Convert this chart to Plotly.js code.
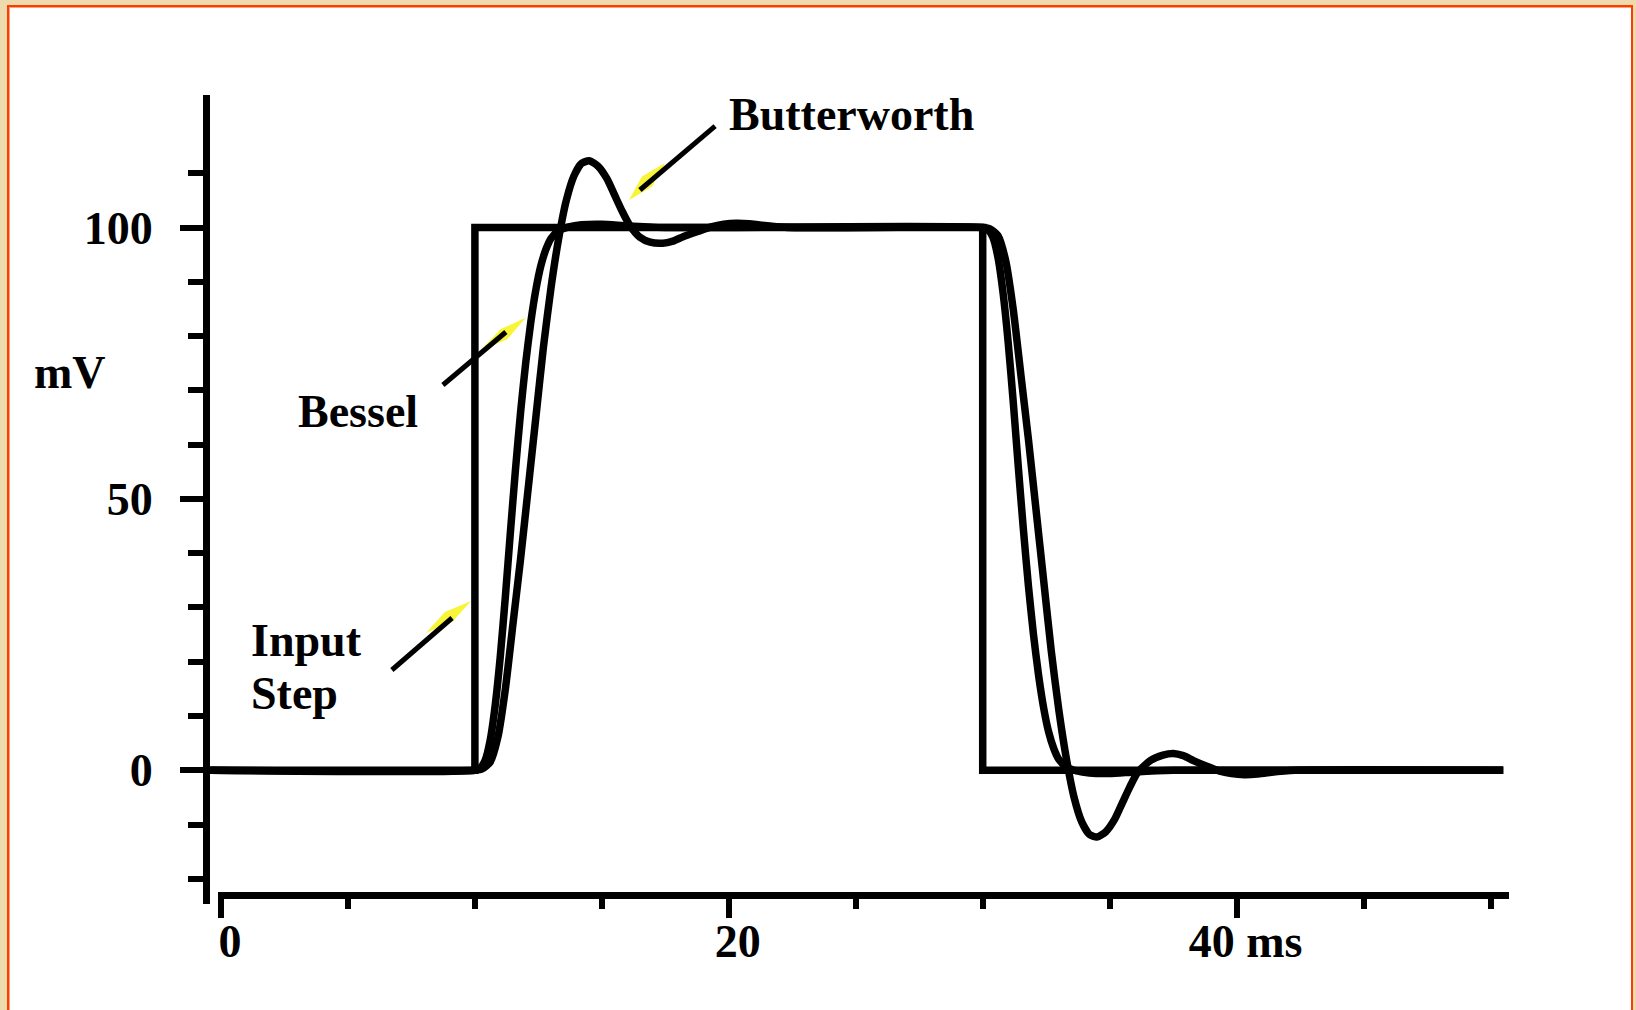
<!DOCTYPE html>
<html>
<head>
<meta charset="utf-8">
<script src="https://cdn.plot.ly/plotly-3.0.1.min.js"></script>
<style>
html, body { margin: 0; padding: 0; }
body { width: 1636px; height: 1010px; overflow: hidden; background: #efdaae; position: relative; }
#frame { position: absolute; left: 7px; top: 5px; width: 1622px; height: 1040px; background: #ffffff;
         border: 2px solid #ff3c00; box-shadow: inset 1px 1px 0 #ffa27c; }
#chart { position: absolute; left: 0; top: 0; width: 1636px; height: 1010px; }
</style>
</head>
<body>
<div id="frame"></div>
<div id="chart"></div>
<script>
// ---- data (time in ms, voltage in mV) ----
const stepTimes  = [-0.43, 10, 10, 30, 30, 50.5];
const stepValues = [0, 0, 100, 100, 0, 0];

const besselTimes  = [-0.43, 10.0, 10.2, 10.4, 10.6, 10.8, 11.0, 11.2, 11.4, 11.6, 11.8, 12.0, 12.2, 12.4, 12.6, 12.8, 13.0, 13.3, 13.7, 14.2, 15.0, 16.0, 17.5,
                      30.0, 30.2, 30.4, 30.6, 30.8, 31.0, 31.2, 31.4, 31.6, 31.8, 32.0, 32.2, 32.4, 32.6, 32.8, 33.0, 33.3, 33.7, 34.2, 35.0, 36.0, 37.5, 50.5];
const besselValues = [0, 0, 0.4, 1.8, 5.5, 12, 21, 32, 44, 55.5, 66, 75, 82.5, 88.5, 93, 96, 98, 99.4, 100.1, 100.5, 100.6, 100.3, 100,
                      100, 99.6, 98.2, 94.5, 88, 79, 68, 56, 44.5, 34, 25, 17.5, 11.5, 7, 4, 2, 0.6, -0.1, -0.5, -0.6, -0.3, 0, 0];

const butterworthTimes  = [-0.43, 10.0, 10.3, 10.6, 10.9, 11.2, 11.5, 11.8, 12.1, 12.4, 12.7, 13.0, 13.3, 13.6, 13.9, 14.2, 14.5, 14.85, 15.2, 15.5, 15.8, 16.1,
                           16.5, 16.9, 17.4, 17.8, 18.2, 18.8, 19.3, 19.8, 20.3, 20.8, 21.3, 22.3,
                           30.0, 30.3, 30.6, 30.9, 31.2, 31.5, 31.8, 32.1, 32.4, 32.7, 33.0, 33.3, 33.6, 33.9, 34.2, 34.5, 34.85, 35.2, 35.5, 35.8, 36.1,
                           36.6, 37.1, 37.5, 37.9, 38.3, 38.8, 39.3, 39.8, 40.3, 40.8, 41.3, 42.3, 50.5];
const butterworthValues = [0, 0, 0.3, 1.5, 6, 15, 27, 39, 52, 65, 78, 89, 98, 105, 109.5, 111.8, 112.3, 111.3, 109, 106, 103, 100.4,
                           98.2, 97.3, 97.1, 97.5, 98.3, 99.3, 100.1, 100.6, 100.8, 100.7, 100.4, 100,
                           100, 99.7, 98.5, 94, 85, 73, 61, 48, 35, 22, 11, 2, -5, -9.5, -11.8, -12.3, -11.3, -9, -6, -3, -0.4,
                           1.8, 2.8, 3.1, 2.7, 1.8, 0.8, -0.1, -0.6, -0.8, -0.7, -0.4, 0, 0];

const yTickValues = [0, 50, 100];
const yTickLabels = ['0', '50', '100'];
const yMinorTicks = [-20, -10, 10, 20, 30, 40, 60, 70, 80, 90, 110];
const xTickValues = [0, 20, 40];
const xTickLabels = ['0', '20', '40 ms'];
const xMinorTicks = [5, 10, 15, 25, 30, 35, 45, 50];

const curveLabels = ['Butterworth', 'Bessel', 'Input', 'Step'];
const unitLabel = 'mV';

// ---- styling ----
const FONT = 'Liberation Serif, Times New Roman, serif';
const INK = '#000000';
const TIP = '#f8f436';

const lineStyle = {color: INK, width: 7.5};

const traces = [
  {x: stepTimes, y: stepValues, mode: 'lines', line: Object.assign({shape: 'linear'}, lineStyle), name: 'Input Step', hoverinfo: 'skip'},
  {x: besselTimes, y: besselValues, mode: 'lines', line: Object.assign({shape: 'spline', smoothing: 0.6}, lineStyle), name: 'Bessel', hoverinfo: 'skip'},
  {x: butterworthTimes, y: butterworthValues, mode: 'lines', line: Object.assign({shape: 'spline', smoothing: 0.6}, lineStyle), name: 'Butterworth', hoverinfo: 'skip'},
  // carrier for the visible time axis
  {x: [null], y: [null], xaxis: 'x2', yaxis: 'y', mode: 'lines', showlegend: false, hoverinfo: 'skip'}
];

function leaf(pts) { return 'M' + pts.map(p => p[0] + ',' + p[1]).join(' L') + ' Z'; }

const shapes = [
  // Butterworth pointer
  {type: 'path', xref: 'x', yref: 'y', layer: 'above', fillcolor: TIP, line: {width: 0},
   path: leaf([[16.07, 105.07], [16.98, 107.57], [17.49, 111.87], [16.58, 109.38]])},
  {type: 'line', xref: 'x', yref: 'y', layer: 'above', x0: 19.46, y0: 118.69, x1: 16.50, y1: 106.91, line: {color: INK, width: 5}},
  // Bessel pointer
  {type: 'path', xref: 'x', yref: 'y', layer: 'above', fillcolor: TIP, line: {width: 0},
   path: leaf([[12.01, 83.41], [11.26, 79.38], [10.24, 77.43], [10.99, 81.19]])},
  {type: 'line', xref: 'x', yref: 'y', layer: 'above', x0: 8.74, y0: 70.98, x1: 11.22, y1: 80.75, line: {color: INK, width: 5}},
  // Input step pointer
  {type: 'path', xref: 'x', yref: 'y', layer: 'above', fillcolor: TIP, line: {width: 0},
   path: leaf([[9.85, 31.19], [9.10, 27.34], [8.07, 25.30], [8.82, 29.15]])},
  {type: 'line', xref: 'x', yref: 'y', layer: 'above', x0: 6.73, y0: 18.48, x1: 9.10, y1: 28.06, line: {color: INK, width: 5}}
];

const textFont = {family: FONT, size: 46, color: INK};
function label(text, x, y) {
  return {text: '<b>' + text + '</b>', xref: 'paper', yref: 'paper', x: x, y: y, xanchor: 'left', yanchor: 'middle',
          showarrow: false, font: textFont, borderpad: 0};
}
const annotations = [
  label(curveLabels[0], 0.3988, 0.9765),
  label(curveLabels[1], 0.0670, 0.6082),
  label(curveLabels[2], 0.0308, 0.3251),
  label(curveLabels[3], 0.0308, 0.2608),
  label(unitLabel, -0.1363, 0.6570)
];

const tickFont = {family: FONT, size: 46, color: INK, weight: 'bold'};

const layout = {
  width: 1636, height: 1010, autosize: false,
  margin: {l: 210, r: 127, t: 95, b: 106, pad: 0},
  paper_bgcolor: 'rgba(0,0,0,0)', plot_bgcolor: 'rgba(0,0,0,0)',
  showlegend: false,
  xaxis: {domain: [0, 1], range: [-0.433, 50.728], visible: false, fixedrange: true},
  xaxis2: {domain: [8 / 1299, 1], range: [-0.118, 50.728], anchor: 'free', position: 9 / 809,
           showline: true, linewidth: 7, linecolor: INK, showgrid: false, zeroline: false,
           ticks: 'outside', ticklen: 19, tickwidth: 6, tickcolor: INK,
           tickmode: 'array', tickvals: xTickValues, ticktext: xTickLabels, tickfont: tickFont,
           ticklabelshift: 9, ticklabelstandoff: -16,
           minor: {tickmode: 'array', tickvals: xMinorTicks, ticks: 'outside', ticklen: 10, tickwidth: 6, tickcolor: INK, showgrid: false},
           fixedrange: true},
  yaxis: {domain: [0, 1], range: [-24.63, 124.41],
          showline: true, linewidth: 7, linecolor: INK, showgrid: false, zeroline: false,
          ticks: 'outside', ticklen: 23, tickwidth: 6, tickcolor: INK,
          tickmode: 'array', tickvals: yTickValues, ticktext: yTickLabels, tickfont: tickFont,
          ticklabelstandoff: 18,
          minor: {tickmode: 'array', tickvals: yMinorTicks, ticks: 'outside', ticklen: 15, tickwidth: 6, tickcolor: INK, showgrid: false},
          fixedrange: true},
  shapes: shapes,
  annotations: annotations
};

Plotly.newPlot('chart', traces, layout, {staticPlot: true, displayModeBar: false});
</script>
</body>
</html>
